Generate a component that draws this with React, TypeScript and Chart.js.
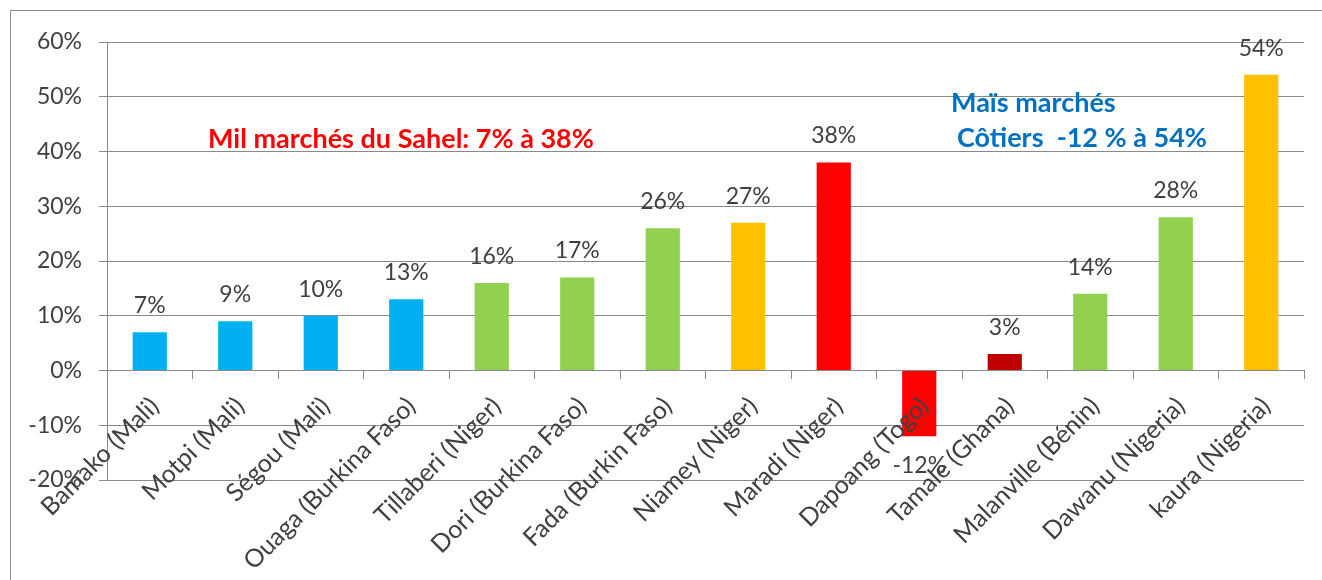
import React, { useEffect, useRef } from "react";
import { Chart, registerables } from "chart.js";

Chart.register(...registerables);

const categories = [
  "Bamako (Mali)",
  "Motpi (Mali)",
  "Ségou (Mali)",
  "Ouaga (Burkina Faso)",
  "Tillaberi (Niger)",
  "Dori (Burkina Faso)",
  "Fada (Burkin Faso)",
  "Niamey (Niger)",
  "Maradi (Niger)",
  "Dapoang (Togo)",
  "Tamale (Ghana)",
  "Malanville (Bénin)",
  "Dawanu (Nigeria)",
  "kaura (Nigeria)",
];

const values = [7, 9, 10, 13, 16, 17, 26, 27, 38, -12, 3, 14, 28, 54];

const barColors = [
  "#00B0F0", "#00B0F0", "#00B0F0", "#00B0F0",
  "#92D050", "#92D050", "#92D050",
  "#FFC000", "#FF0000", "#FF0000", "#C00000",
  "#92D050", "#92D050", "#FFC000",
];

const yMin = -20;
const yMax = 60;
const yStep = 10;

const milNote = "Mil marchés du Sahel: 7% à 38%";
const maisNoteLine1 = "Maïs marchés";
const maisNoteLine2 = "Côtiers  -12 % à 54%";

const GRID = "#898989";
const TEXT = "#404040";
const FONT = "Lato, 'Open Sans', sans-serif";

const framePlugin = {
  id: "frame",
  beforeDraw(chart: any) {
    const ctx = chart.ctx;
    ctx.save();
    ctx.fillStyle = "#ffffff";
    ctx.fillRect(0, 0, chart.width, chart.height);
    ctx.strokeStyle = "#8c8c8c";
    ctx.lineWidth = 1;
    ctx.strokeRect(10.5, 10.5, 1400, 700);
    ctx.restore();
  },
};

const valueLabelPlugin = {
  id: "valueLabels",
  afterDraw(chart: any) {
    const ctx = chart.ctx;
    const meta = chart.getDatasetMeta(0);
    ctx.save();
    ctx.font = `23px ${FONT}`;
    ctx.fillStyle = TEXT;
    ctx.textAlign = "center";
    ctx.textBaseline = "alphabetic";
    meta.data.forEach((bar: any, i: number) => {
      const v = values[i];
      const txt = `${v}%`;
      if (v >= 0) ctx.fillText(txt, bar.x, bar.y - 19);
      else ctx.fillText(txt, bar.x, bar.y + 37);
    });
    ctx.restore();
  },
};

const notesPlugin = {
  id: "notes",
  afterDraw(chart: any) {
    const ctx = chart.ctx;
    ctx.save();
    ctx.textAlign = "left";
    ctx.textBaseline = "alphabetic";
    ctx.font = `bold 27px ${FONT}`;
    ctx.fillStyle = "#FF0000";
    ctx.fillText(milNote, 208, 148);
    ctx.fillStyle = "#0070C0";
    ctx.fillText(maisNoteLine1, 951, 112);
    ctx.fillText(maisNoteLine2, 957, 147);
    ctx.restore();
  },
};

export default function App() {
  const ref = useRef<HTMLCanvasElement>(null);

  useEffect(() => {
    const canvas = ref.current;
    if (!canvas) return;
    const chart = new Chart(canvas, {
      type: "bar",
      data: {
        labels: categories,
        datasets: [
          {
            data: values,
            backgroundColor: barColors,
            borderWidth: 0,
            barPercentage: 0.4,
            categoryPercentage: 1,
          },
        ],
      },
      options: {
        animation: false,
        responsive: false,
        layout: { padding: { left: 0, right: 18, top: 42, bottom: 100 } },
        plugins: {
          legend: { display: false },
          tooltip: { enabled: false },
          title: { display: false },
        },
        scales: {
          x: {
            position: { y: 0 } as any,
            offset: true,
            grid: {
              drawOnChartArea: false,
              drawTicks: true,
              tickLength: 8,
              color: GRID,
              offset: true,
            },
            border: { display: true, color: GRID },
            ticks: {
              z: 1,
              autoSkip: false,
              minRotation: 45,
              maxRotation: 45,
              padding: 13,
              labelOffset: 5,
              color: TEXT,
              font: { family: FONT, size: 25 },
            },
          },
          y: {
            min: yMin,
            max: yMax,
            grid: { color: GRID, tickLength: 8, drawTicks: true },
            border: { display: true, color: GRID },
            ticks: {
              stepSize: yStep,
              padding: 17,
              color: TEXT,
              font: { family: FONT, size: 23 },
              callback: (v: any) => `${v}%`,
            },
            afterFit: (s: any) => {
              s.width = 107;
            },
          },
        },
      },
      plugins: [framePlugin, valueLabelPlugin, notesPlugin],
    });
    return () => chart.destroy();
  }, []);

  return (
    <div style={{ position: "absolute", left: 0, top: 0, width: 1322, height: 580, background: "#fff" }}>
      <canvas ref={ref} width={1322} height={580} style={{ display: "block" }} />
    </div>
  );
}
